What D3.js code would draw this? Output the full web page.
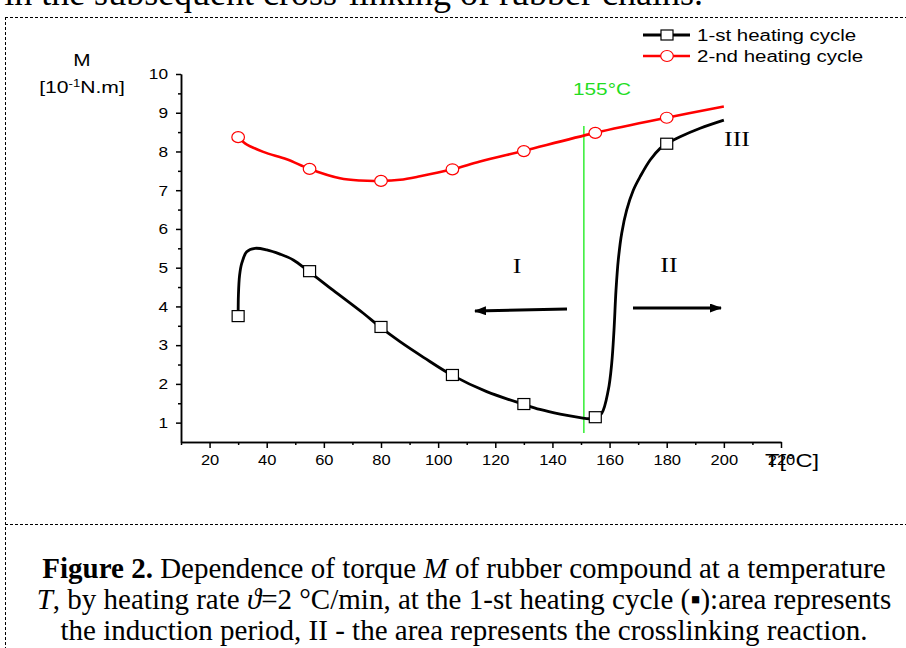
<!DOCTYPE html>
<html>
<head>
<meta charset="utf-8">
<script src="https://cdn.jsdelivr.net/npm/d3@7"></script>
<style>
  html, body { margin: 0; padding: 0; background: #fff; }
  svg { display: block; }
</style>
</head>
<body>
<script>
// ---------- data ----------
const markerTemps = [30, 55, 80, 105, 130, 155, 180];
const cycle1Markers = [3.75, 4.91, 3.47, 2.23, 1.48, 1.14, 8.2];
const cycle2Markers = [8.37, 7.55, 7.24, 7.54, 8.01, 8.48, 8.87];

const cycle1T = [30, 30.1, 30.5, 31.25, 33, 35.9, 40, 44.65, 49.3, 54.45, 63.2, 73.7, 79.65, 86.65, 95, 105, 117, 130, 135.6, 142.7, 149.7, 153, 155, 157.25, 159.55, 160.75, 161.55, 162.25, 163.05, 164.25, 166, 168.3, 170.7, 174.2, 177.7, 180, 184.7, 191.7, 200];
const cycle1M = [3.75, 4.3, 4.8, 5.11, 5.41, 5.5, 5.46, 5.35, 5.2, 4.92, 4.42, 3.83, 3.47, 3.09, 2.68, 2.22, 1.8, 1.47, 1.34, 1.22, 1.13, 1.1, 1.13, 1.24, 1.84, 2.53, 3.39, 4.42, 5.2, 5.89, 6.49, 7.0, 7.35, 7.78, 8.08, 8.2, 8.38, 8.6, 8.81];

const cycle2T = [30, 32.4, 38.8, 47, 55, 65.65, 72.65, 80, 86.65, 93.65, 105, 114.65, 130, 155, 180, 200];
const cycle2M = [8.38, 8.21, 7.99, 7.80, 7.55, 7.31, 7.25, 7.24, 7.27, 7.36, 7.54, 7.74, 8.02, 8.48, 8.87, 9.16];

const xMajorTicks = [20, 40, 60, 80, 100, 120, 140, 160, 180, 200, 220];
const xMinorTicks = [10, 30, 50, 70, 90, 110, 130, 150, 170, 190, 210];
const yMajorTicks = [1, 2, 3, 4, 5, 6, 7, 8, 9, 10];
const yMinorTicks = [1.5, 2.5, 3.5, 4.5, 5.5, 6.5, 7.5, 8.5, 9.5];

const seriesNames = ["1-st heating cycle", "2-nd heating cycle"];
const markerLineT = 151;
const markerLineRange = [0.73, 8.66];

// ---------- layout ----------
const W = 906, H = 648;
const svg = d3.select("body").append("svg").attr("width", W).attr("height", H)
  .style("font-family", "Arial, 'Liberation Sans', sans-serif");
svg.append("rect").attr("width", W).attr("height", H).attr("fill", "#fff");

const x = d3.scaleLinear().domain([10, 220]).range([181, 781]);
const y = d3.scaleLinear().domain([0.5, 10]).range([442, 74]);

// horizontally stretch text (the chart's type is wide)
function stretch(sel, sx) {
  sel.each(function () {
    const t = d3.select(this);
    const tx = +t.attr("x") || 0, ty = +t.attr("y") || 0;
    t.attr("x", null).attr("y", null).attr("transform", `translate(${tx},${ty}) scale(${sx},1)`);
  });
}

// frame (dashed)
const frame = svg.append("g").attr("stroke", "#000").attr("stroke-width", 1).attr("stroke-dasharray", "3,2").attr("fill", "none");
frame.append("line").attr("x1", 5).attr("x2", W).attr("y1", 17.5).attr("y2", 17.5);
frame.append("line").attr("x1", 5.5).attr("x2", 5.5).attr("y1", 17).attr("y2", H);
frame.append("line").attr("x1", 5).attr("x2", W).attr("y1", 524.5).attr("y2", 524.5);

const serif = "'Liberation Serif', 'Times New Roman', serif";

// top cut text
svg.append("text").attr("x", 703).attr("y", 5).attr("text-anchor", "end")
  .style("font-family", serif).style("font-size", "36px")
  .text("in the subsequent cross-linking of rubber chains.");

// axes
function styleAxis(g) {
  g.selectAll("path").attr("stroke", "#000").attr("stroke-width", 1.5);
  g.selectAll("line").attr("stroke", "#000").attr("stroke-width", 1.5);
  g.selectAll("text").style("font-size", "15px").style("font-family", "Arial, 'Liberation Sans', sans-serif").attr("fill", "#000");
}
const gx = svg.append("g").attr("transform", "translate(0,442)")
  .call(d3.axisBottom(x).tickValues(xMajorTicks).tickSize(6).tickSizeOuter(0).tickPadding(6).tickFormat(d3.format("d")));
styleAxis(gx);
stretch(gx.selectAll("text"), 1.1);
const gxm = svg.append("g").attr("transform", "translate(0,442)")
  .call(d3.axisBottom(x).tickValues(xMinorTicks).tickSize(3).tickSizeOuter(0).tickFormat(""));
styleAxis(gxm);

const gy = svg.append("g").attr("transform", "translate(181,0)")
  .call(d3.axisLeft(y).tickValues(yMajorTicks).tickSize(5).tickSizeOuter(0).tickPadding(8).tickFormat(d3.format("d")));
styleAxis(gy);
stretch(gy.selectAll("text"), 1.15);
const gym = svg.append("g").attr("transform", "translate(181,0)")
  .call(d3.axisLeft(y).tickValues(yMinorTicks).tickSize(3).tickSizeOuter(0).tickFormat(""));
styleAxis(gym);

// axis titles
const mT = svg.append("text").attr("x", 82).attr("y", 66).attr("text-anchor", "middle").style("font-size", "16px").text("M");
stretch(mT, 1.3);
const yl = svg.append("text").attr("x", 82).attr("y", 93).attr("text-anchor", "middle").style("font-size", "16px");
yl.append("tspan").text("[10");
yl.append("tspan").attr("dy", -6).style("font-size", "10px").text("-1");
yl.append("tspan").attr("dy", 6).text("N.m]");
stretch(yl, 1.32);

const tT = svg.append("text").attr("x", 765).attr("y", 467).style("font-size", "17.5px").text("T[°C]");
stretch(tT, 1.35);

// green marker line
svg.append("line").attr("x1", x(markerLineT)).attr("x2", x(markerLineT))
  .attr("y1", y(markerLineRange[1])).attr("y2", y(markerLineRange[0]))
  .attr("stroke", "#33ee33").attr("stroke-width", 1.5);
const gT = svg.append("text").attr("x", 602).attr("y", 95).attr("text-anchor", "middle")
  .style("font-size", "16px").attr("fill", "#22dd22").text("155°C");
stretch(gT, 1.3);

// curves
const line = d3.line().x(d => x(d[0])).y(d => y(d[1])).curve(d3.curveCatmullRom.alpha(0.5));
const c1 = cycle1T.map((t, i) => [t, cycle1M[i]]);
const c2 = cycle2T.map((t, i) => [t, cycle2M[i]]);

svg.append("path").attr("d", line(c2)).attr("fill", "none").attr("stroke", "#ff0000").attr("stroke-width", 2.6);
svg.append("path").attr("d", line(c1)).attr("fill", "none").attr("stroke", "#000").attr("stroke-width", 2.8);

// markers
svg.append("g").selectAll("ellipse").data(markerTemps.map((t, i) => [t, cycle2Markers[i]])).join("ellipse")
  .attr("cx", d => x(d[0])).attr("cy", d => y(d[1])).attr("rx", 6.3).attr("ry", 5.5)
  .attr("fill", "#fff").attr("stroke", "#ff0000").attr("stroke-width", 1.2);
svg.append("g").selectAll("rect").data(markerTemps.map((t, i) => [t, cycle1Markers[i]])).join("rect")
  .attr("x", d => x(d[0]) - 6).attr("y", d => y(d[1]) - 5.5).attr("width", 12).attr("height", 11)
  .attr("fill", "#fff").attr("stroke", "#000").attr("stroke-width", 1.2);

// arrows
const defs = svg.append("defs");
defs.append("marker").attr("id", "ah").attr("viewBox", "0 0 12 9").attr("refX", 11).attr("refY", 4.5)
  .attr("markerWidth", 4).attr("markerHeight", 3).attr("markerUnits", "strokeWidth").attr("orient", "auto")
  .append("path").attr("d", "M0,0L12,4.5L0,9z").attr("fill", "#000");
svg.append("line").attr("x1", 567).attr("y1", 309).attr("x2", 475).attr("y2", 311)
  .attr("stroke", "#000").attr("stroke-width", 3).attr("marker-end", "url(#ah)");
svg.append("line").attr("x1", 633).attr("y1", 308).attr("x2", 721).attr("y2", 308)
  .attr("stroke", "#000").attr("stroke-width", 3).attr("marker-end", "url(#ah)");

// region labels
[["I", 517, 273], ["II", 669, 272], ["III", 737, 146]].forEach(([t, px, py]) => {
  const r = svg.append("text").attr("x", px).attr("y", py).attr("text-anchor", "middle")
    .style("font-family", serif).style("font-size", "20px").text(t);
  stretch(r, 1.3);
});

// legend
const lg = svg.append("g");
const legendY = [35, 56];
lg.append("line").attr("x1", 643).attr("x2", 690).attr("y1", legendY[0]).attr("y2", legendY[0]).attr("stroke", "#000").attr("stroke-width", 2.8);
lg.append("rect").attr("x", 661).attr("y", legendY[0] - 5).attr("width", 12).attr("height", 10).attr("fill", "#fff").attr("stroke", "#000").attr("stroke-width", 1.2);
lg.append("line").attr("x1", 643).attr("x2", 690).attr("y1", legendY[1]).attr("y2", legendY[1]).attr("stroke", "#ff0000").attr("stroke-width", 2.6);
lg.append("ellipse").attr("cx", 667).attr("cy", legendY[1]).attr("rx", 6.3).attr("ry", 5.5).attr("fill", "#fff").attr("stroke", "#ff0000").attr("stroke-width", 1.2);
seriesNames.forEach((n, i) => {
  const lt = lg.append("text").attr("x", 697).attr("y", legendY[i] + 6).style("font-size", "16px").text(n);
  stretch(lt, 1.28);
});

// caption
const cap = svg.append("g").style("font-family", serif).style("font-size", "29px");
const l1 = cap.append("text").attr("x", 464).attr("y", 578).attr("text-anchor", "middle");
l1.append("tspan").style("font-weight", "bold").text("Figure 2.");
l1.append("tspan").text(" Dependence of torque ");
l1.append("tspan").style("font-style", "italic").text("M");
l1.append("tspan").text(" of rubber compound at a temperature");
const l2 = cap.append("text").attr("x", 464).attr("y", 609).attr("text-anchor", "middle");
l2.append("tspan").style("font-style", "italic").text("T");
l2.append("tspan").text(", by heating rate ");
l2.append("tspan").style("font-style", "italic").text("ϑ");
l2.append("tspan").text("=2 °C/min, at the 1-st heating cycle (▪):area represents");
cap.append("text").attr("x", 464).attr("y", 640).attr("text-anchor", "middle")
  .text("the induction period, II - the area represents the crosslinking reaction.");
</script>
</body>
</html>
